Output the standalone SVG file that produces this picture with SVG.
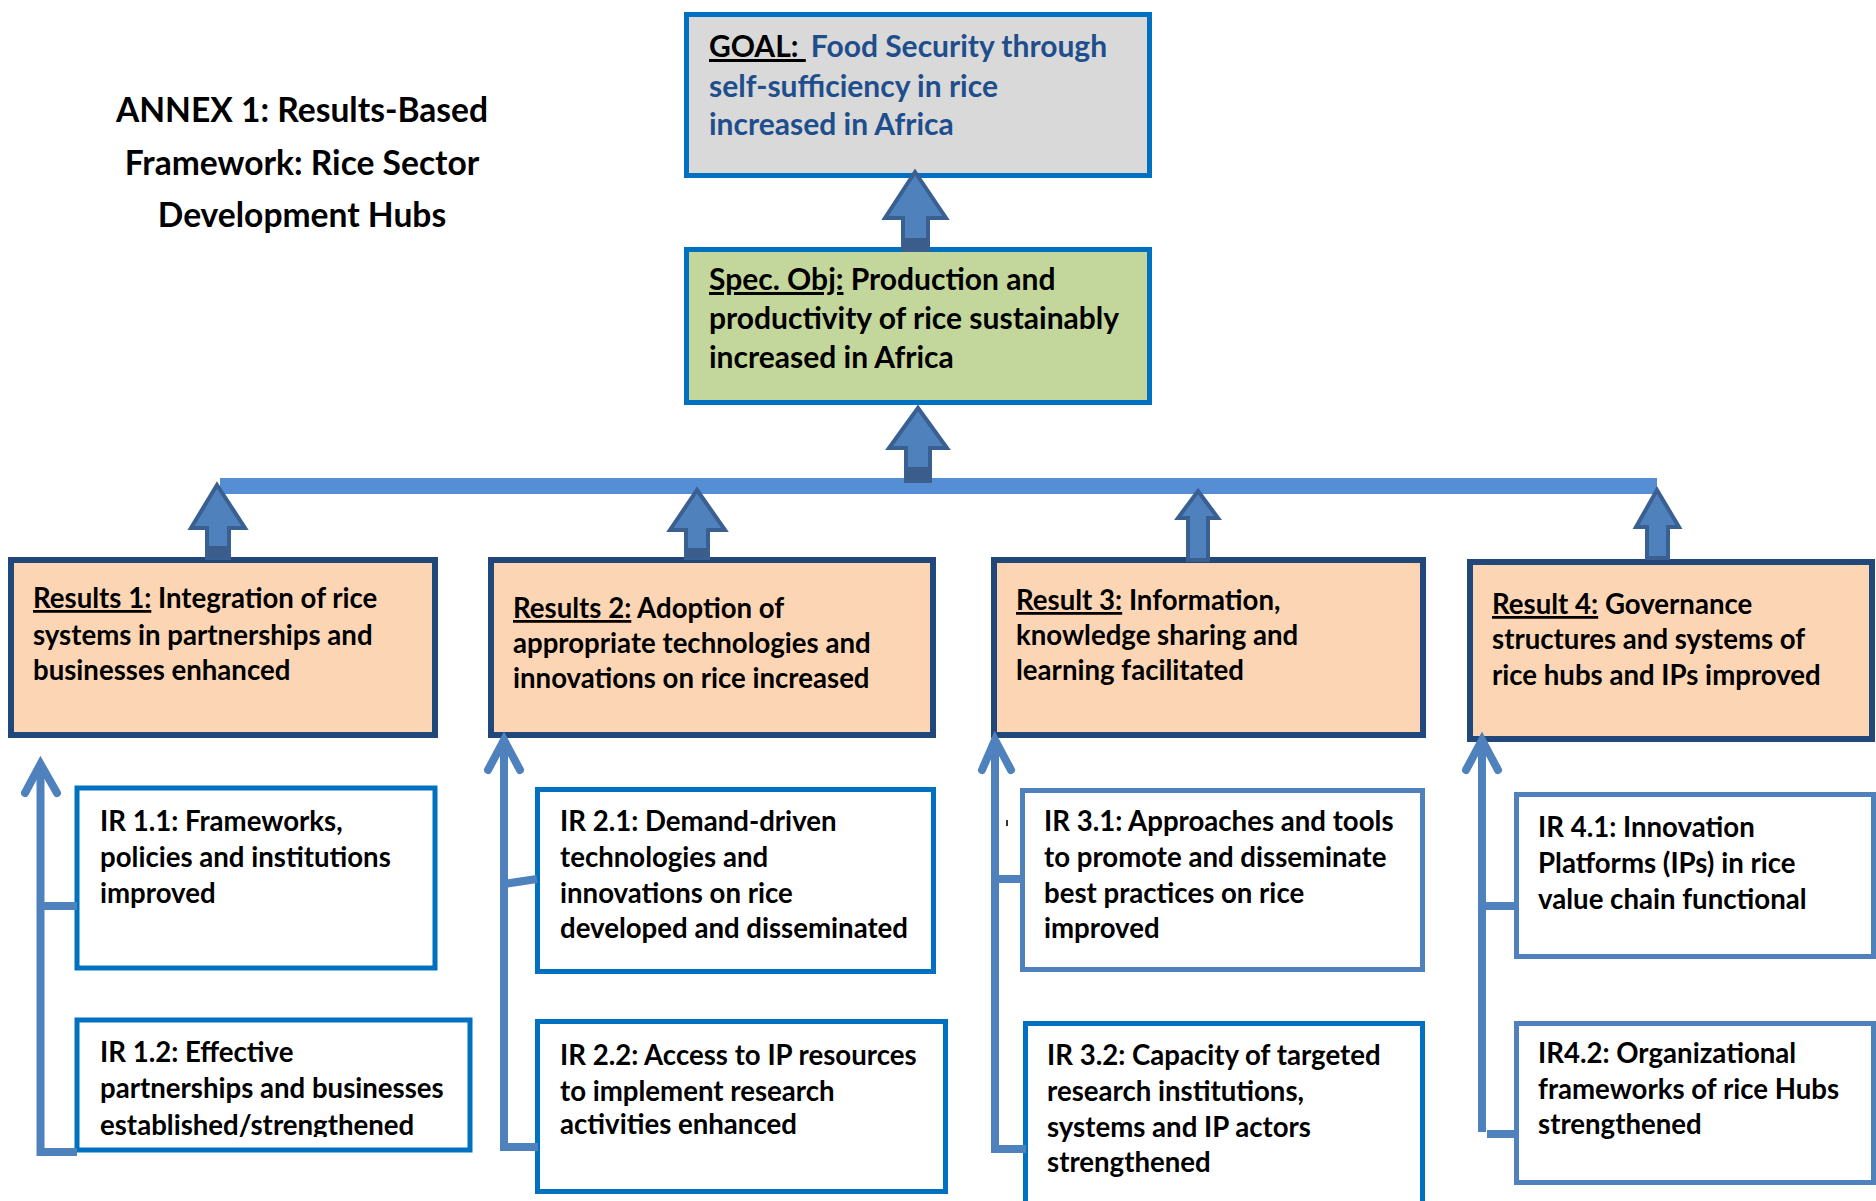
<svg xmlns="http://www.w3.org/2000/svg" width="1876" height="1201" viewBox="0 0 1876 1201">
<style>
text{font-family:Lato,"Liberation Sans",sans-serif;font-weight:bold;fill:#000}
.t{font-size:33.6px}
.g{font-size:30px}
.b{font-size:27.6px}
.u{text-decoration:underline}
.blue{fill:#1f4e8c}
.rbox{fill:#fcd5b4;stroke:#22487b;stroke-width:6}
.ir{fill:#fff;stroke:#0070c0;stroke-width:5}
.ir2{fill:#fff;stroke:#4f81bd;stroke-width:5}
.blk{fill:#4f81bd;stroke:#3a6092;stroke-width:4;stroke-linejoin:miter}
.band{fill:#3a5d8c}
.thin{fill:none;stroke:#4f81bd;stroke-width:8}
.chev{fill:none;stroke:#4f81bd;stroke-width:8;stroke-linecap:round;stroke-linejoin:miter}
</style>
<defs>
<clipPath id="clip12"><rect x="77" y="1020" width="393" height="117"/></clipPath>
</defs>
<rect width="1876" height="1201" fill="#fff"/>

<g id="title">
<text class="t" x="302" y="122" text-anchor="middle">ANNEX 1: Results-Based</text>
<text class="t" x="302" y="175" text-anchor="middle">Framework: Rice Sector</text>
<text class="t" x="302" y="227" text-anchor="middle">Development Hubs</text>
</g>

<g id="goal">
<rect x="686.5" y="14.5" width="463" height="161" fill="#d9d9d9" stroke="#0070c0" stroke-width="5"/>
<text class="g" x="709" y="57"><tspan class="u">GOAL:&#160;</tspan><tspan class="blue" dx="5">Food Security through</tspan></text>
<text class="g blue" x="709" y="97">self-sufficiency in rice</text>
<text class="g blue" x="709" y="135">increased in Africa</text>
</g>

<g id="spec-obj">
<rect x="686.5" y="249.5" width="463" height="153" fill="#c3d69b" stroke="#0070c0" stroke-width="5"/>
<text class="g" x="709" y="290"><tspan class="u">Spec. Obj:</tspan> Production and</text>
<text class="g" x="709" y="329">productivity of rice sustainably</text>
<text class="g" x="709" y="368">increased in Africa</text>
</g>

<g id="result-1">
<rect class="rbox" x="11" y="560" width="424" height="175"/>
<text class="b" x="33" y="608"><tspan class="u">Results 1:</tspan> Integration of rice</text>
<text class="b" x="33" y="645">systems in partnerships and</text>
<text class="b" x="33" y="680">businesses enhanced</text>
</g>

<g id="result-2">
<rect class="rbox" x="491" y="560" width="442" height="175"/>
<text class="b" x="513" y="618"><tspan class="u">Results 2:</tspan> Adoption of</text>
<text class="b" x="513" y="653">appropriate technologies and</text>
<text class="b" x="513" y="688">innovations on rice increased</text>
</g>

<g id="result-3">
<rect class="rbox" x="994" y="560" width="429" height="175"/>
<text class="b" x="1016" y="610"><tspan class="u">Result 3:</tspan> Information,</text>
<text class="b" x="1016" y="645">knowledge sharing and</text>
<text class="b" x="1016" y="680">learning facilitated</text>
</g>

<g id="result-4">
<rect class="rbox" x="1470" y="562" width="402" height="177"/>
<text class="b" x="1492" y="614"><tspan class="u">Result 4:</tspan> Governance</text>
<text class="b" x="1492" y="649">structures and systems of</text>
<text class="b" x="1492" y="685">rice hubs and IPs improved</text>
</g>

<g id="ir-1-1">
<rect class="ir" x="77" y="788" width="358" height="180" stroke-width="6"/>
<text class="b" x="100" y="831">IR 1.1: Frameworks,</text>
<text class="b" x="100" y="867">policies and institutions</text>
<text class="b" x="100" y="903">improved</text>
</g>

<g id="ir-1-2">
<rect class="ir" x="77" y="1020" width="393" height="130" stroke-width="6"/>
<g clip-path="url(#clip12)">
<text class="b" x="100" y="1062">IR 1.2: Effective</text>
<text class="b" x="100" y="1098">partnerships and businesses</text>
<text class="b" x="100" y="1135">established/strengthened</text>
</g>
</g>

<g id="ir-2-1">
<rect class="ir" x="537.5" y="789.5" width="396" height="182"/>
<text class="b" x="560" y="831">IR 2.1: Demand-driven</text>
<text class="b" x="560" y="867">technologies and</text>
<text class="b" x="560" y="903">innovations on rice</text>
<text class="b" x="560" y="938">developed and disseminated</text>
</g>

<g id="ir-2-2">
<rect class="ir" x="537.5" y="1021.5" width="408" height="170"/>
<text class="b" x="560" y="1065">IR 2.2: Access to IP resources</text>
<text class="b" x="560" y="1101">to implement research</text>
<text class="b" x="560" y="1134">activities enhanced</text>
</g>

<g id="ir-3-1">
<rect class="ir2" x="1022.5" y="790.5" width="400" height="179"/>
<text class="b" x="1044" y="831">IR 3.1: Approaches and tools</text>
<text class="b" x="1044" y="867">to promote and disseminate</text>
<text class="b" x="1044" y="903">best practices on rice</text>
<text class="b" x="1044" y="938">improved</text>
</g>

<g id="ir-3-2">
<rect class="ir" x="1025.5" y="1023.5" width="397" height="190"/>
<text class="b" x="1047" y="1065">IR 3.2: Capacity of targeted</text>
<text class="b" x="1047" y="1101">research institutions,</text>
<text class="b" x="1047" y="1137">systems and IP actors</text>
<text class="b" x="1047" y="1172">strengthened</text>
</g>

<g id="ir-4-1">
<rect class="ir2" x="1516.5" y="794.5" width="357" height="162"/>
<text class="b" x="1538" y="837">IR 4.1: Innovation</text>
<text class="b" x="1538" y="873">Platforms (IPs) in rice</text>
<text class="b" x="1538" y="909">value chain functional</text>
</g>

<g id="ir-4-2">
<rect class="ir2" x="1516.5" y="1023.5" width="357" height="159"/>
<text class="b" x="1538" y="1063">IR4.2: Organizational</text>
<text class="b" x="1538" y="1099">frameworks of rice Hubs</text>
<text class="b" x="1538" y="1134">strengthened</text>
</g>

<g id="connectors">
<rect x="220" y="478" width="1437" height="16" fill="#558ed5"/>

<polygon class="blk" points="915,172 946,218 928,218 928,250 903,250 903,218 885,218"/>
<rect class="band" x="903" y="238" width="25" height="12"/>
<polygon class="blk" points="918,408 947,448 930,448 930,481 906,481 906,448 889,448"/>
<rect class="band" x="906" y="467" width="24" height="14"/>
<polygon class="blk" points="217,485 245,528 229,528 229,558 207,558 207,528 191,528"/>
<rect class="band" x="207" y="546" width="22" height="12"/>
<polygon class="blk" points="697,490 725,530 708,530 708,558 686,558 686,530 670,530"/>
<rect class="band" x="686" y="548" width="22" height="10"/>
<polygon class="blk" points="1198,491 1218,518 1208,518 1208,560 1188,560 1188,518 1178,518" stroke-width="5"/>
<polygon class="blk" points="1657,490 1679,527 1668,527 1668,558 1647,558 1647,527 1636,527"/>

<path class="thin" d="M40.5,764 V1152 H77"/>
<polyline class="chev" points="25,793 40.5,764 57,793"/>
<path class="thin" d="M40.5,906 H77"/>

<path class="thin" d="M504,740 V1147 H538"/>
<polyline class="chev" points="488,770 504,740 520,770"/>
<path class="thin" d="M504,884 L537,879"/>

<path class="thin" d="M995,740 V1149 H1026"/>
<polyline class="chev" points="982,770 995,740 1011,770"/>
<path class="thin" d="M995,879 H1025"/>
<rect x="1006" y="820" width="2" height="6" fill="#333"/>

<path class="thin" d="M1482,740 V1132"/>
<polyline class="chev" points="1466,770 1482,740 1498,770"/>
<path class="thin" d="M1482,906 H1516"/>
<path class="thin" d="M1487,1134 H1518"/>
</g>
</svg>
